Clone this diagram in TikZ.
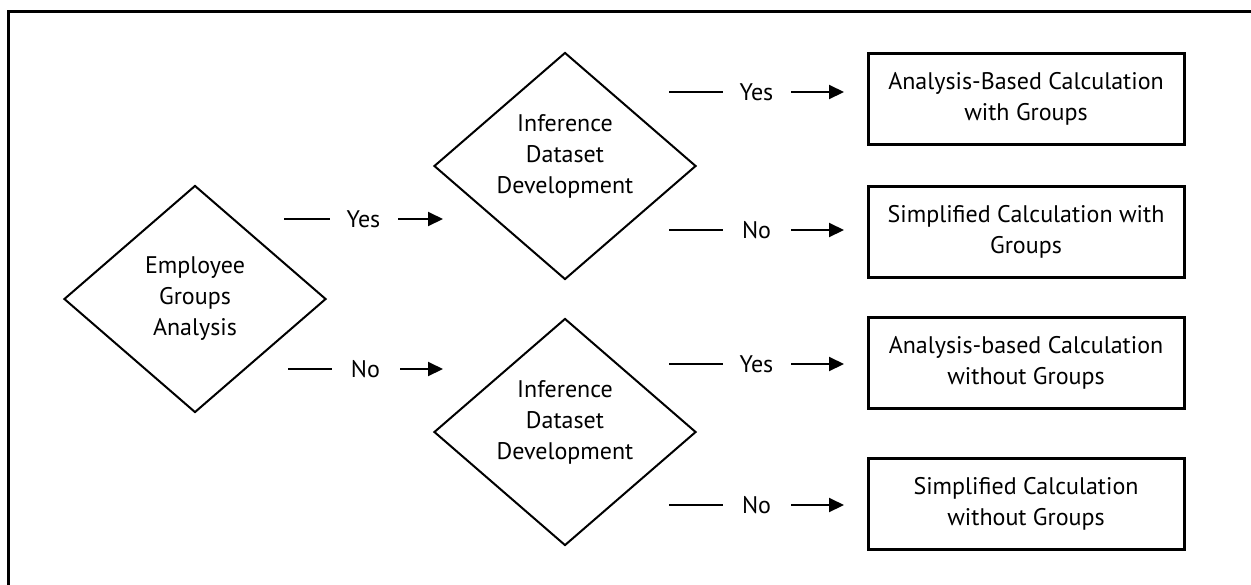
\documentclass[tikz,border=0pt]{standalone}
\usepackage{fontspec}
\setmainfont{PT Sans}
\usetikzlibrary{shapes.geometric,arrows.meta}

\begin{document}
\begin{tikzpicture}[
			x=0.5pt, y=-0.5pt,
			font=\fontsize{12}{15.5}\selectfont,
			decision/.style={diamond, draw, line width=1pt, minimum width=131pt, minimum height=113.5pt, inner sep=0pt},
			dtext/.style={align=center, yshift=5pt},
			result/.style={draw, line width=1.5pt, minimum width=158pt, minimum height=45.5pt, inner sep=0pt, align=center},
			flow/.style={line width=1pt, -{Triangle[length=7.5pt,width=7pt]}},
			gap/.style={fill=white, minimum width=34pt, inner sep=0pt}
		]
		\clip (0,0) rectangle (1251,584);
		\draw[line width=1.5pt] (8,11) rectangle (1270,600);

		% decisions
		\node[decision, label={[align=center]center:Employee\\Groups\\Analysis}] (groups) at (195,299) {};
		\node[decision, label={[dtext]center:Inference\\Dataset\\Development}] (infyes) at (565,166) {};
		\node[decision, label={[dtext]center:Inference\\Dataset\\Development}] (infno) at (565,432) {};

		% outcomes
		\node[result] (abwith) at (1026,98.5) {Analysis-Based Calculation\\with Groups};
		\node[result] (simwith) at (1026,232) {Simplified Calculation with\\Groups};
		\node[result] (abwithout) at (1026,363) {Analysis-based Calculation\\without Groups};
		\node[result] (simwithout) at (1026,504) {Simplified Calculation\\without Groups};

		% connectors
		\coordinate (gyes) at (284,219);
		\coordinate (gyesend) at (443,219);
		\coordinate (gno) at (288,369);
		\coordinate (gnoend) at (443,369);
		\draw[flow] (gyes) -- node[gap] {Yes} (gyesend);
		\draw[flow] (gno) -- node[gap] {No} (gnoend);
		\foreach \y/\t/\n in {92/Yes/a, 230/No/b, 364/Yes/c, 505/No/d} {
			\coordinate (r\n) at (669,\y);
			\coordinate (r\n end) at (844,\y);
			\draw[flow] (r\n) -- node[gap] {\t} (r\n end);
		}
	\end{tikzpicture}
\end{document}
